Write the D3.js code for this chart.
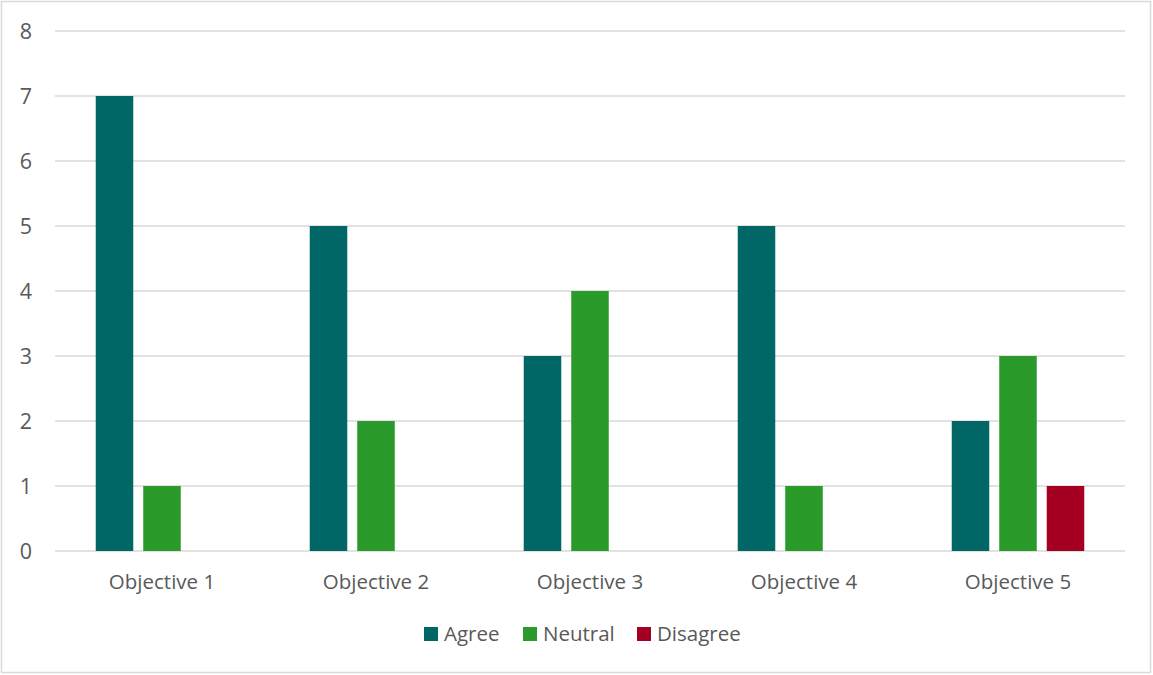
<!DOCTYPE html>
<html><head><meta charset="utf-8">
<script src="https://cdn.jsdelivr.net/npm/d3@7"></script>
<style>body{margin:0;background:#fff;} svg{display:block;}</style>
</head><body>
<svg id="c" width="1153" height="675"></svg>
<script>
const categories = ["Objective 1","Objective 2","Objective 3","Objective 4","Objective 5"];
const seriesNames = ["Agree","Neutral","Disagree"];
const agree = [7,5,3,5,2];
const neutral = [1,2,4,1,3];
const disagree = [0,0,0,0,1];
const yTicks = [0,1,2,3,4,5,6,7,8];
const colors = ["#006666","#2a9a2a","#a50021"];
const values = [agree, neutral, disagree];

(function(){
const svg = d3.select("#c");
const font = "'Open Sans', sans-serif";
const fs = 20.5;
svg.append("rect").attr("x",1.5).attr("y",1.5).attr("width",1149).attr("height",671)
  .attr("fill","#fff").attr("stroke","#d9d9d9").attr("stroke-width",1.5);

const pL=55, pR=1125, pT=31, pB=551;
const x = d3.scaleBand().domain(categories).range([pL,pR]);
const xs = d3.scaleBand().domain(seriesNames).range([0,x.bandwidth()]).paddingInner(0.21).paddingOuter(0.8575);
const y = d3.scaleLinear().domain([0,8]).range([pB,pT]);

svg.append("g").selectAll("line").data(yTicks).join("line")
  .attr("x1",pL).attr("x2",pR).attr("y1",d=>y(d)).attr("y2",d=>y(d))
  .attr("stroke","#d9d9d9").attr("stroke-width",1.5);

svg.append("g").selectAll("text").data(yTicks).join("text")
  .attr("x",32).attr("y",d=>y(d)).attr("dy","0.35em").attr("text-anchor","end")
  .attr("font-family",font).attr("font-size",21.5).attr("fill","#595959").text(d=>d);

seriesNames.forEach((s,i)=>{
  svg.append("g").selectAll("rect").data(categories).join("rect")
    .attr("x",c=>x(c)+xs(s)).attr("width",xs.bandwidth())
    .attr("y",(c,j)=>y(values[i][j])).attr("height",(c,j)=>y(0)-y(values[i][j]))
    .attr("fill",colors[i]);
});

svg.append("g").selectAll("text").data(categories).join("text")
  .attr("x",c=>x(c)+x.bandwidth()/2).attr("y",582).attr("dy","0.35em").attr("text-anchor","middle")
  .attr("font-family",font).attr("font-size",fs).attr("fill","#595959").text(c=>c);

const legX = [424,523,637];
const lg = svg.append("g");
seriesNames.forEach((s,i)=>{
  lg.append("rect").attr("x",legX[i]).attr("y",627).attr("width",14).attr("height",14).attr("fill",colors[i]);
  lg.append("text").attr("x",legX[i]+20).attr("y",634).attr("dy","0.35em")
    .attr("font-family",font).attr("font-size",fs).attr("fill","#595959").text(s);
});
})();
</script>
</body></html>
